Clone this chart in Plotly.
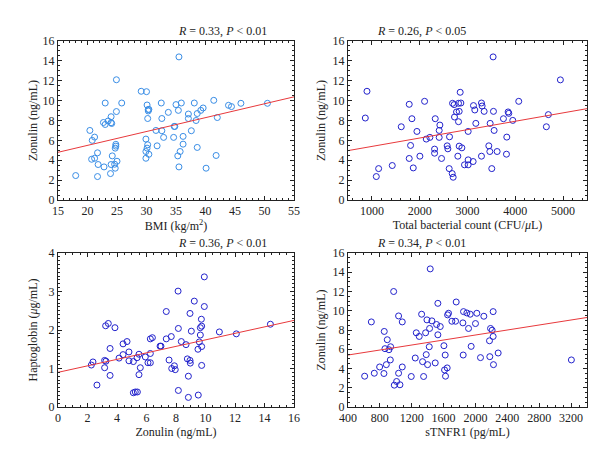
import plotly.graph_objects as go
from plotly.subplots import make_subplots

# BMI vs zonulin
bmi = [18.0, 20.4, 20.8, 21.2, 20.7, 21.2, 21.7, 21.8, 21.7, 22.8, 23.0, 22.7, 23.0, 23.5, 24.0, 24.0,
       24.1, 24.2, 24.0, 23.9, 24.9, 24.9, 24.6, 24.7, 25.0, 24.8, 24.8, 24.7, 25.8, 29.1, 30.0, 30.1,
       30.3, 30.3, 30.4, 30.2, 29.9, 30.2, 30.1, 29.9, 30.4, 29.9, 31.6, 31.8, 32.5, 32.6, 32.6, 32.9,
       33.7, 35.0, 35.9, 35.4, 34.7, 34.8, 34.6, 35.5, 36.2, 36.2, 35.7, 35.3, 35.5, 38.1, 37.1, 37.1,
       37.6, 38.4, 38.6, 39.2, 39.6, 38.6, 40.1, 41.4, 42.0, 41.8, 43.9, 44.4, 46.0, 50.5]
zon_bmi = [2.46, 7.0, 6.0, 6.33, 4.1, 4.2, 4.75, 3.57, 2.36, 3.33, 9.76, 7.8, 7.6, 7.95, 8.38, 7.78,
           7.7, 4.44, 3.57, 2.66, 8.9, 12.1, 3.6, 3.2, 3.9, 5.6, 5.42, 5.22, 9.76, 10.94, 10.9, 9.56,
           8.96, 9.1, 9.12, 8.2, 6.13, 5.56, 5.22, 4.88, 4.6, 4.2, 7.0, 5.45, 9.76, 8.2, 6.97, 6.3,
           8.82, 9.6, 9.76, 9.02, 7.4, 7.4, 6.3, 14.4, 6.4, 5.62, 4.88, 4.44, 3.33, 9.76, 8.65, 8.2,
           6.97, 8.0, 8.7, 9.02, 9.26, 5.29, 3.2, 10.03, 8.3, 4.48, 9.53, 9.4, 9.73, 9.73]
fit_bmi_x = [15, 55]
fit_bmi_y = [4.8, 10.38]

# total bacterial count vs zonulin
tbc = [862, 897, 1092, 1141, 1426, 1614, 1781, 1837, 1809, 1781, 1865, 1942, 2004, 2102, 2137, 2213,
       2325, 2311, 2311, 2422, 2408, 2408, 2457, 2575, 2589, 2624, 2617, 2680, 2700, 2687, 2721, 2728,
       2770, 2812, 2826, 2812, 2861, 2847, 2826, 2882, 2798, 2937, 3014, 3014, 3118, 3014, 3125, 3153,
       3174, 3348, 3292, 3306, 3292, 3508, 3467, 3446, 3474, 3543, 3557, 3536, 3620, 3752, 3815, 3822,
       3850, 3864, 3947, 4072, 4650, 4692, 4943]
zon_tbc = [8.25, 10.94, 2.36, 3.16, 3.47, 7.37, 9.63, 8.18, 5.49, 4.18, 3.23, 6.9, 4.41, 9.93, 6.13, 6.3,
           8.18, 5.12, 4.71, 7.54, 7.0, 6.3, 4.18, 5.45, 5.15, 6.36, 3.16, 2.66, 2.29, 9.73, 9.6, 8.35,
           8.86, 7.88, 8.92, 9.73, 9.76, 10.84, 5.42, 5.25, 4.41, 3.54, 3.54, 4.04, 3.87, 6.9, 9.5, 9.06,
           7.71, 8.92, 9.76, 9.46, 4.41, 3.16, 4.88, 5.45, 7.71, 8.92, 7.0, 14.4, 4.88, 8.18, 4.61, 6.33,
           8.86, 8.72, 8.01, 9.93, 7.37, 8.59, 12.09]
fit_tbc_x = [500, 5500]
fit_tbc_y = [4.97, 9.19]

# zonulin vs haptoglobin
zon_hp = [2.26, 2.37, 2.64, 3.16, 3.16, 3.25, 3.23, 3.41, 3.53, 3.53, 3.86, 4.14, 4.41, 4.41, 4.68, 4.81,
          4.81, 5.11, 5.11, 5.24, 5.38, 5.36, 5.49, 5.58, 5.49, 5.92, 6.10, 6.26, 6.26, 6.26, 6.40, 6.92,
          6.98, 7.34, 7.34, 7.53, 7.68, 7.71, 7.89, 7.95, 8.14, 8.16, 8.16, 8.36, 8.68, 8.77, 8.84, 8.84,
          8.95, 8.97, 8.95, 9.04, 9.24, 9.49, 9.51, 9.58, 9.65, 9.65, 9.74, 9.72, 9.74, 9.74, 9.92, 9.92,
          10.94, 12.09, 14.4]
hapto = [1.09, 1.17, 0.57, 1.02, 1.21, 1.19, 2.11, 2.17, 1.52, 0.82, 2.06, 1.27, 1.36, 1.64, 1.70, 1.43,
         1.2, 1.18, 0.37, 0.39, 0.39, 1.28, 1.37, 1.02, 0.84, 1.30, 1.15, 1.15, 1.39, 1.77, 1.80, 1.58,
         1.58, 2.48, 1.77, 1.22, 1.83, 1.0, 1.07, 0.97, 3.01, 2.04, 0.43, 1.70, 1.62, 1.25, 0.8, 0.25,
         1.21, 1.14, 2.43, 1.97, 2.75, 1.50, 0.31, 1.69, 1.87, 2.06, 2.10, 2.28, 1.57, 1.08, 2.61, 3.38,
         1.95, 1.90, 2.15]
fit_hp_x = [0, 16]
fit_hp_y = [0.9, 2.25]

# sTNFR1 vs zonulin
stnfr1 = [609, 693, 730, 797, 855, 851, 864, 881, 893, 914, 935, 931, 973, 981, 1010, 1035,
          1035, 1052, 1081, 1081, 1194, 1244, 1257, 1294, 1324, 1336, 1349, 1374, 1391, 1382, 1399, 1420,
          1424, 1432, 1453, 1495, 1512, 1528, 1528, 1558, 1604, 1612, 1620, 1624, 1645, 1650, 1662, 1704,
          1750, 1758, 1842, 1850, 1846, 1892, 1913, 1934, 1946, 2000, 2017, 2063, 2105, 2176, 2180, 2189,
          2209, 2222, 2222, 2226, 2285, 3204]
zon_tn = [3.2, 8.84, 3.51, 4.16, 7.85, 3.48, 6.06, 4.4, 6.99, 5.95, 6.26, 4.89, 12.0, 2.27, 2.65, 9.46,
          3.51, 2.31, 8.84, 4.16, 3.17, 5.09, 7.71, 7.33, 9.64, 4.71, 3.17, 7.71, 9.05, 5.44, 4.4, 6.26,
          8.16, 14.35, 8.95, 4.58, 8.57, 7.5, 10.77, 8.36, 6.37, 3.85, 5.4, 3.2, 4.06, 9.57, 9.74, 8.91,
          8.91, 10.91, 8.74, 9.91, 5.4, 9.77, 8.16, 9.64, 6.3, 8.67, 9.74, 5.13, 9.43, 6.88, 5.23, 8.16,
          7.98, 9.91, 7.33, 4.4, 5.61, 4.89]
fit_tn_x = [400, 3400]
fit_tn_y = [5.4, 9.3]

titles = ["<i>R</i> = 0.33, <i>P</i> &lt; 0.01", "<i>R</i> = 0.26, <i>P</i> &lt; 0.05",
          "<i>R</i> = 0.36, <i>P</i> &lt; 0.01", "<i>R</i> = 0.34, <i>P</i> &lt; 0.01"]

FONT = "Liberation Serif"
light_blue = "#3a8ee6"
blue = "#2222cc"
red = "#e8393c"

fig = make_subplots(rows=2, cols=2)

panels = [
    (1, 1, bmi, zon_bmi, fit_bmi_x, fit_bmi_y, light_blue),
    (1, 2, tbc, zon_tbc, fit_tbc_x, fit_tbc_y, blue),
    (2, 1, zon_hp, hapto, fit_hp_x, fit_hp_y, blue),
    (2, 2, stnfr1, zon_tn, fit_tn_x, fit_tn_y, blue),
]
for r, c, x, y, fx, fy, col in panels:
    fig.add_trace(go.Scatter(x=x, y=y, mode="markers",
                             marker=dict(symbol="circle-open", size=6, color=col, line=dict(width=1)),
                             showlegend=False), row=r, col=c)
    fig.add_trace(go.Scatter(x=fx, y=fy, mode="lines", line=dict(color=red, width=1),
                             showlegend=False), row=r, col=c)

ax_common = dict(showline=True, linecolor="#222", linewidth=1, mirror="ticks", ticks="inside",
                 ticklen=4, tickcolor="#222", showgrid=False, zeroline=False, automargin=False,
                 tickfont=dict(family=FONT, size=12, color="#222"),
                 title_font=dict(family=FONT, size=12, color="#222"),
                 minor=dict(ticks="inside", ticklen=2, tickcolor="#222"))

left = [50 / 600, 286 / 600]
right = [340 / 600, 579 / 600]
top = [1 - 192 / 449, 1 - 33 / 449]
bot = [1 - 399 / 449, 1 - 245 / 449]

fig.update_layout(
    xaxis=dict(ax_common, domain=left, range=[15, 55], dtick=5, title_text="BMI (kg/m<sup>2</sup>)",
               title_standoff=1),
    yaxis=dict(ax_common, domain=top, range=[0, 16], dtick=2, title_text="Zonulin (ng/mL)",
               title_standoff=2),
    xaxis2=dict(ax_common, domain=right, range=[500, 5500], dtick=1000,
                title_text="Total bacterial count (CFU/<i>μ</i>L)", title_standoff=1),
    yaxis2=dict(ax_common, domain=top, range=[0, 16], dtick=2, title_text="Zonulin (ng/mL)",
                title_standoff=4),
    xaxis3=dict(ax_common, domain=left, range=[0, 16], dtick=2, title_text="Zonulin (ng/mL)",
                title_standoff=1),
    yaxis3=dict(ax_common, domain=bot, range=[0, 4], dtick=1, title_text="Haptoglobin (<i>μ</i>g/mL)",
                title_standoff=8),
    xaxis4=dict(ax_common, domain=right, range=[400, 3400], dtick=400, title_text="sTNFR1 (pg/mL)",
                title_standoff=1),
    yaxis4=dict(ax_common, domain=bot, range=[0, 16], dtick=2, title_text="Zonulin (ng/mL)",
                title_standoff=4),
)
fig.update_yaxes(minor=dict(nticks=5))
fig.update_layout(yaxis3_minor=dict(nticks=10))

for i, (xd, yd) in enumerate([(left, top), (right, top), (left, bot), (right, bot)]):
    fig.add_annotation(text=titles[i], x=(xd[0] + xd[1]) / 2, y=yd[1], xref="paper", yref="paper",
                       yanchor="bottom", showarrow=False, yshift=1,
                       font=dict(family=FONT, size=12, color="#222"))

fig.update_layout(width=600, height=449, margin=dict(l=0, r=0, t=0, b=0),
                  plot_bgcolor="white", paper_bgcolor="white")

fig.write_html("out.html")
